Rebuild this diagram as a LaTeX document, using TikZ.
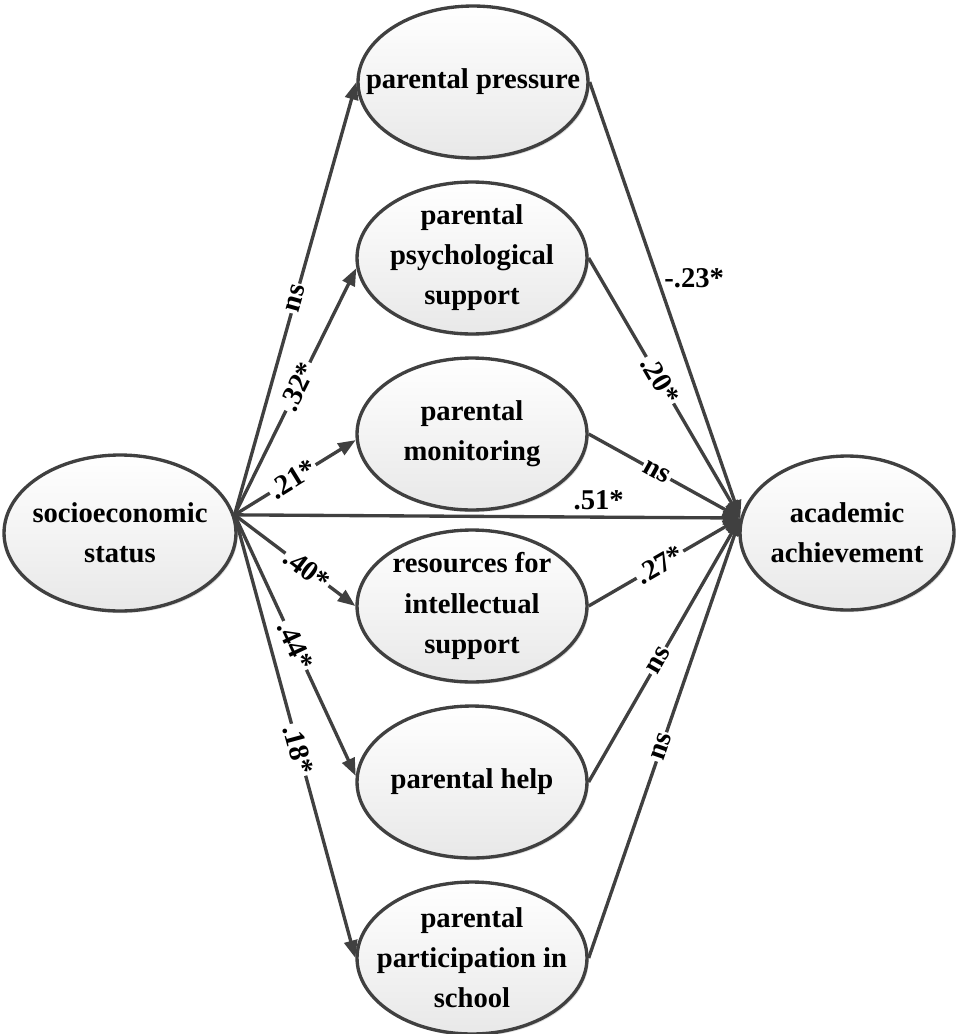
\documentclass[tikz,border=0pt]{standalone}
\usepackage{fontspec}
\setmainfont{Liberation Serif}
\usepackage{tikz}
\usetikzlibrary{arrows.meta,positioning,shapes,shadows}
\definecolor{ink}{HTML}{404040}
\definecolor{shadebot}{HTML}{E8E8E8}
\tikzset{
  varnode/.style={ellipse,draw=ink,line width=1.9pt,
                  top color=white,bottom color=shadebot,
                  minimum width=4.6cm,minimum height=3.04cm,
                  inner xsep=-0.6cm,inner ysep=-0.2cm,
                  align=center,font=\bfseries\fontsize{16.3}{22.8}\selectfont,
                  drop shadow={shadow xshift=1pt,shadow yshift=-1.2pt,fill=black!25,opacity=0.5}},
  patharr/.style={-{Triangle[length=10pt,width=7.5pt]},draw=ink,line width=1.9pt},
  coef/.style={sloped,fill=white,inner sep=1pt,font=\bfseries\fontsize{16.3}{18}\selectfont},
  coefplain/.style={inner sep=1pt,font=\bfseries\fontsize{16.3}{18}\selectfont}
}
\begin{document}
\begin{tikzpicture}[x=0.02cm,y=-0.02cm]
  \useasboundingbox (0,0) rectangle (956,1034);
  \node[varnode,minimum width=4.64cm,minimum height=3.12cm] (ses) at (120,533) {socioeconomic\\status};
  \node[varnode,minimum width=4.28cm,minimum height=3.08cm] (aa) at (847,533) {academic\\achievement};
  \node[varnode] (pp) at (473,82) {parental pressure};
  \node[varnode] (ps) at (472,258) {parental\\psychological\\support};
  \node[varnode] (mon) at (472,434) {parental\\monitoring};
  \node[varnode] (res) at (472,606) {resources for\\intellectual\\support};
  \node[varnode] (help) at (472,782) {parental help};
  \node[varnode] (part) at (472,958) {parental\\participation in\\school};

  \draw[patharr] (ses.9) -- node[coef,pos=0.5]{ns} (pp.west);
  \draw[patharr] (ses.9) -- node[coef,pos=0.52]{.32*} (ps.185);
  \draw[patharr] (ses.9) -- node[coef,pos=0.48]{.21*} (mon.183);
  \draw[patharr] (ses.9) -- node[coefplain,pos=0.72,above=2pt]{.51*} (aa.172);
  \draw[patharr] (ses.9) -- node[coef,pos=0.6]{.40*} (res.west);
  \draw[patharr] (ses.9) -- node[coef,pos=0.5]{.44*} (help.177);
  \draw[patharr] (ses.9) -- node[coef,pos=0.53]{.18*} (part.west);

  \draw[patharr] (pp.east) -- node[coefplain,pos=0.45,right=2pt]{-.23*} (aa.172);
  \draw[patharr] (ps.east) -- node[coef,pos=0.47]{.20*} (aa.172);
  \draw[patharr] (mon.east) -- node[coef,pos=0.45]{ns} (aa.172);
  \draw[patharr] (res.east) -- node[coef,pos=0.47]{.27*} (aa.172);
  \draw[patharr] (help.east) -- node[coef,pos=0.46]{ns} (aa.172);
  \draw[patharr] (part.east) -- node[coef,pos=0.48]{ns} (aa.172);
\end{tikzpicture}
\end{document}
